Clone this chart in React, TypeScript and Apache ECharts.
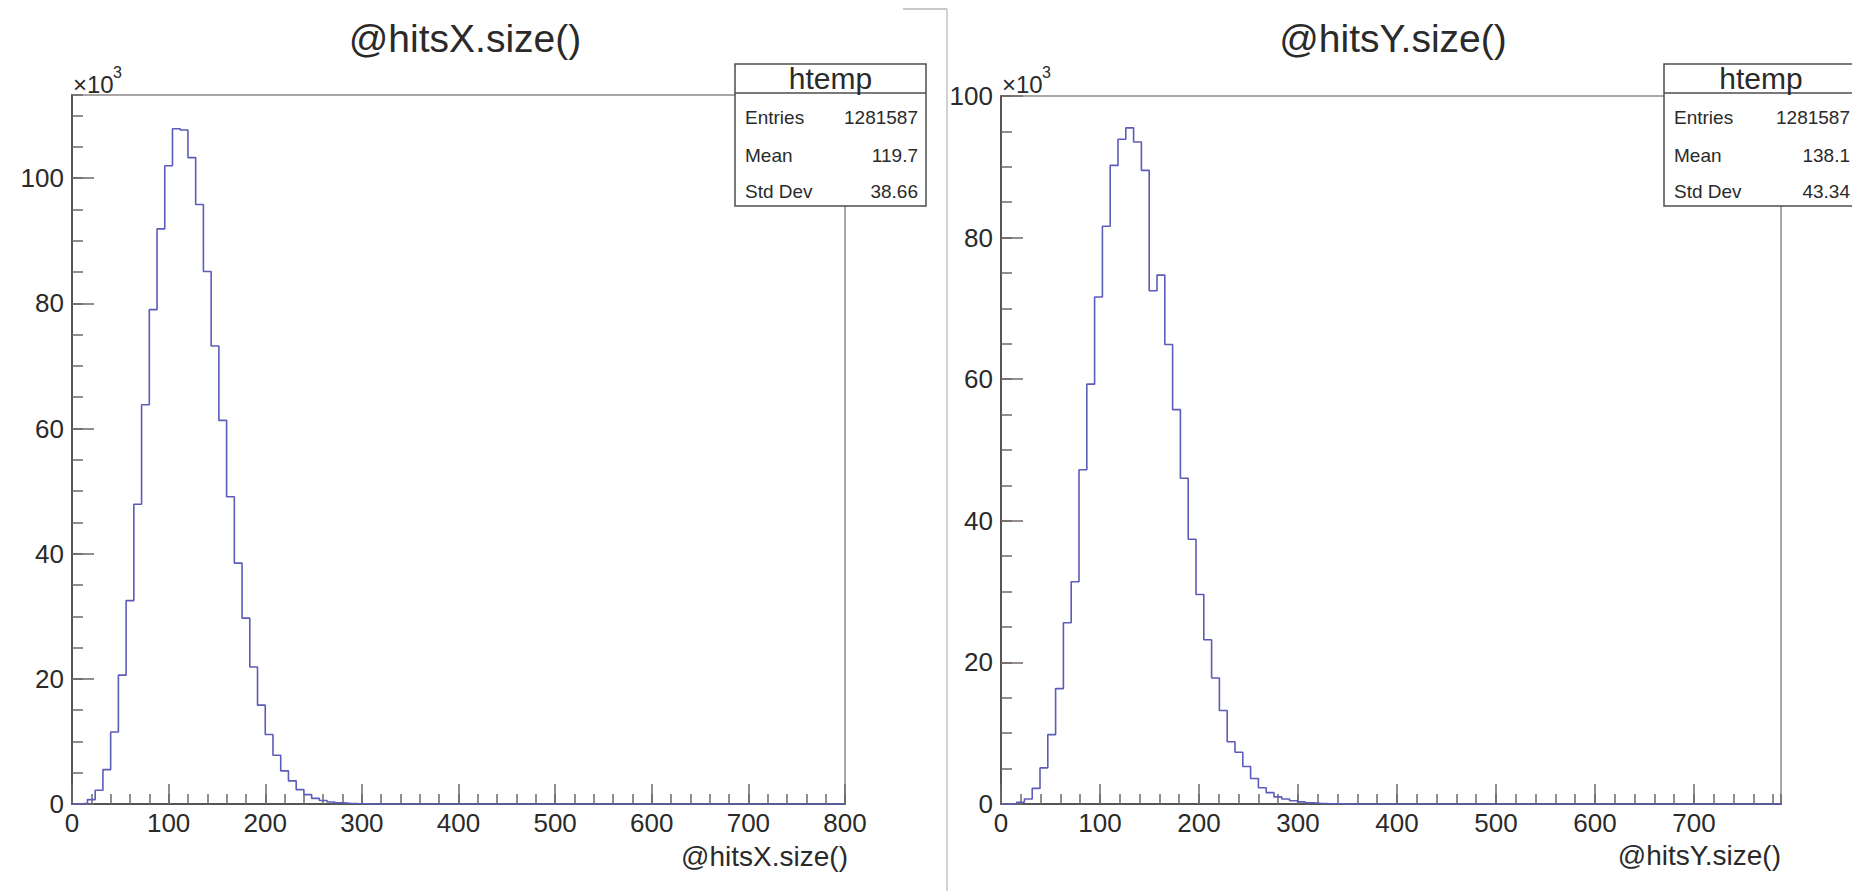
import React, { useEffect, useRef } from "react";
import * as echarts from "echarts";

// ---- data (counts in thousands, i.e. ×10³) ----
const hitsXRange = [0, 800];
const hitsXBinWidth = 8;
const hitsXCounts = [
  0, 0.1, 0.7, 2.2, 5.5, 11.5, 20.6, 32.5, 47.9, 63.8,
  79.0, 91.9, 102.0, 107.9, 107.7, 103.3, 95.8, 85.1, 73.2, 61.3,
  49.1, 38.5, 29.7, 21.9, 15.8, 11.1, 7.8, 5.3, 3.7, 2.3,
  1.5, 0.9, 0.55, 0.32, 0.2, 0.12, 0.07, 0.04, 0.02, 0.01,
  0, 0, 0, 0, 0, 0, 0, 0, 0, 0,
  0, 0, 0, 0, 0, 0, 0, 0, 0, 0,
  0, 0, 0, 0, 0, 0, 0, 0, 0, 0,
  0, 0, 0, 0, 0, 0, 0, 0, 0, 0,
  0, 0, 0, 0, 0, 0, 0, 0, 0, 0,
  0, 0, 0, 0, 0, 0, 0, 0, 0, 0,
];
const hitsXYMax = 113.3;

const hitsYRange = [0, 788];
const hitsYBinWidth = 7.88;
const hitsYCounts = [
  0, 0.05, 0.25, 0.7, 2.2, 5.1, 9.8, 16.3, 25.6, 31.4,
  47.2, 59.3, 71.6, 81.6, 90.2, 93.9, 95.5, 93.5, 89.5, 72.5,
  74.7, 64.9, 55.7, 46.0, 37.4, 29.6, 23.2, 17.8, 13.2, 8.8,
  7.3, 5.3, 3.6, 2.3, 1.6, 1.0, 0.7, 0.45, 0.3, 0.18,
  0.1, 0.06, 0.03, 0.02, 0.01, 0, 0, 0, 0, 0,
  0, 0, 0, 0, 0, 0, 0, 0, 0, 0,
  0, 0, 0, 0, 0, 0, 0, 0, 0, 0,
  0, 0, 0, 0, 0, 0, 0, 0, 0, 0,
  0, 0, 0, 0, 0, 0, 0, 0, 0, 0,
  0, 0, 0, 0, 0, 0, 0, 0, 0, 0,
];
const hitsYYMax = 100;

const statLabels = ["Entries", "Mean", "Std Dev"];
const hitsXStats = ["1281587", "119.7", "38.66"];
const hitsYStats = ["1281587", "138.1", "43.34"];
const titles = ["@hitsX.size()", "@hitsY.size()"];
const boxTitle = "htemp";

const xMajor = 100;
const xMinor = 20;
const yMajor = 20;
const yMinor = 5;

const FONT = "'Liberation Sans', Arial, Helvetica, sans-serif";
const TEXT = "#2a2a2a";
const HIST = "#5c5cba";
const AXIS = "#555555";
const TICK = "#6f6767";
const FRAME = "#8a8a8a";

function histPoints(counts: number[], w: number) {
  const pts: number[][] = counts.map((c, i) => [i * w, c]);
  pts.push([counts.length * w, counts[counts.length - 1]]);
  return pts;
}

function mainX(gridIndex: number, max: number, showMax: boolean) {
  return {
    gridIndex, type: "value", min: 0, max, interval: xMajor, position: "bottom",
    axisLine: { show: true, onZero: false, lineStyle: { color: AXIS, width: 2 } },
    axisTick: { show: true, inside: true, length: 20, lineStyle: { color: TICK, width: 1.5 } },
    axisLabel: { fontSize: 26, color: TEXT, fontFamily: FONT, margin: 6, showMaxLabel: showMax },
    splitLine: { show: false },
  };
}
function minorX(gridIndex: number, max: number) {
  return {
    gridIndex, type: "value", min: 0, max, interval: xMinor, position: "bottom",
    axisLine: { show: false }, axisLabel: { show: false }, splitLine: { show: false },
    axisTick: { show: true, inside: true, length: 10, lineStyle: { color: TICK, width: 1.5 } },
  };
}
function mainY(gridIndex: number, max: number, showMax: boolean) {
  return {
    gridIndex, type: "value", min: 0, max, interval: yMajor, position: "left",
    axisLine: { show: true, onZero: false, lineStyle: { color: AXIS, width: 2 } },
    axisTick: { show: true, inside: true, length: 22, lineStyle: { color: TICK, width: 1.5 } },
    axisLabel: { fontSize: 26, color: TEXT, fontFamily: FONT, margin: 8, showMaxLabel: showMax },
    splitLine: { show: false },
  };
}
function minorY(gridIndex: number, max: number) {
  return {
    gridIndex, type: "value", min: 0, max, interval: yMinor, position: "left",
    axisLine: { show: false }, axisLabel: { show: false }, splitLine: { show: false },
    axisTick: { show: true, inside: true, length: 11, lineStyle: { color: TICK, width: 1.5 } },
  };
}

function txt(text: string, x: number, y: number, size: number, align: string, z = 110) {
  return {
    type: "text", x, y, z,
    style: {
      text, fill: TEXT, fontSize: size, fontFamily: FONT,
      textAlign: align, textVerticalAlign: "middle", verticalAlign: "middle",
    },
  };
}

function statBox(x: number, w: number, values: string[]) {
  const els: any[] = [
    { type: "rect", z: 100, shape: { x, y: 64, width: w, height: 142 },
      style: { fill: "#ffffff", stroke: "#4d4d4d", lineWidth: 1.5 } },
    { type: "line", z: 101, shape: { x1: x, y1: 93, x2: x + w, y2: 93 },
      style: { stroke: "#4d4d4d", lineWidth: 1.5 } },
    txt(boxTitle, x + w / 2, 78.5, 30, "center"),
  ];
  const rowsY = [117, 155, 191];
  statLabels.forEach((l, i) => {
    els.push(txt(l, x + 10, rowsY[i], 19, "left"));
    els.push(txt(values[i], x + w - 8, rowsY[i], 19, "right"));
  });
  return els;
}

export default function App() {
  const ref = useRef<HTMLDivElement>(null);
  useEffect(() => {
    if (!ref.current) return;
    const chart = echarts.init(ref.current, undefined, { renderer: "svg" });
    const option: any = {
      animation: false,
      backgroundColor: "#ffffff",
      grid: [
        { left: 72, top: 95, width: 773, height: 709, show: true, borderColor: FRAME, borderWidth: 1.5, backgroundColor: "transparent" },
        { left: 1001, top: 96, width: 780, height: 708, show: true, borderColor: FRAME, borderWidth: 1.5, backgroundColor: "transparent" },
      ],
      xAxis: [
        mainX(0, hitsXRange[1], true),
        minorX(0, hitsXRange[1]),
        mainX(1, hitsYRange[1], false),
        minorX(1, hitsYRange[1]),
      ],
      yAxis: [
        mainY(0, hitsXYMax, false),
        minorY(0, hitsXYMax),
        mainY(1, hitsYYMax, true),
        minorY(1, hitsYYMax),
      ],
      series: [
        { type: "line", xAxisIndex: 0, yAxisIndex: 0, step: "end", symbol: "none", silent: true,
          data: histPoints(hitsXCounts, hitsXBinWidth), lineStyle: { color: HIST, width: 1.6 } },
        { type: "line", xAxisIndex: 2, yAxisIndex: 2, step: "end", symbol: "none", silent: true,
          data: histPoints(hitsYCounts, hitsYBinWidth), lineStyle: { color: HIST, width: 1.6 } },
      ],
      graphic: [
        // pad separator
        { type: "line", z: 90, shape: { x1: 903, y1: 9, x2: 947, y2: 9 }, style: { stroke: "#b5b5b5", lineWidth: 1.5 } },
        { type: "line", z: 90, shape: { x1: 947, y1: 9, x2: 947, y2: 891 }, style: { stroke: "#c4c4c4", lineWidth: 1.5 } },
        // titles
        txt(titles[0], 465, 38, 39, "center"),
        txt(titles[1], 1393, 38, 39, "center"),
        // ×10^3
        txt("×10", 73, 84, 24, "left"),
        txt("3", 113, 72, 16, "left"),
        txt("×10", 1002, 84, 24, "left"),
        txt("3", 1042, 72, 16, "left"),
        // axis titles
        txt(titles[0], 848, 856, 28, "right"),
        txt(titles[1], 1781, 855, 28, "right"),
        ...statBox(735, 191, hitsXStats),
        ...statBox(1664, 194, hitsYStats),
      ],
    };
    chart.setOption(option);
    return () => chart.dispose();
  }, []);
  return (
    <div
      ref={ref}
      style={{ position: "absolute", left: 0, top: 0, width: 1852, height: 891, background: "#fff" }}
    />
  );
}
